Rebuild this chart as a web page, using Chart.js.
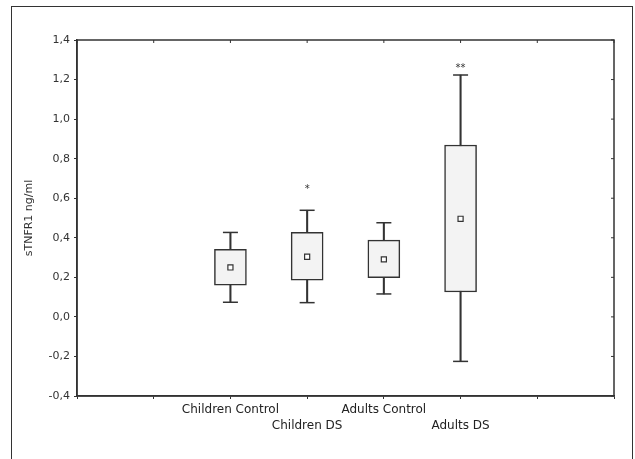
<!DOCTYPE html>
<html>
<head>
<meta charset="utf-8">
<script src="https://cdn.jsdelivr.net/npm/chart.js@4.4.1/dist/chart.umd.min.js"></script>
<style>
  html, body { margin: 0; padding: 0; background: #fff; overflow: hidden; }
  #wrap { position: relative; width: 635px; height: 459px; }
  #frame { position: absolute; left: 11px; top: 6px; width: 622px; height: 480px; border: 1px solid #333; box-sizing: border-box; }
  #chart { position: absolute; left: 0; top: 0; }
</style>
</head>
<body>
<div id="wrap">
  <div id="frame"></div>
  <canvas id="chart" width="635" height="459"></canvas>
</div>
<script>
// группы и значения
const groups = ['Children Control', 'Children DS', 'Adults Control', 'Adults DS'];
const q1 = [0.160, 0.186, 0.198, 0.126];
const q3 = [0.341, 0.428, 0.388, 0.869];
const whiskerMin = [0.074, 0.072, 0.116, -0.225];
const whiskerMax = [0.427, 0.539, 0.476, 1.223];
const means = [0.250, 0.304, 0.291, 0.496];
const sigText = ['', '*', '', '**'];
const sigY = [null, 0.664, null, 1.274];
const yTicks = [-0.4, 1.4, 0.2]; // min, max, шаг

// по оси X 8 позиций, группы стоят на 2..5
const labels = ['', '', ...groups, '', ''];
const pad = arr => [null, null, ...arr, null, null];
const boxData = pad(groups.map((g, i) => [q1[i], q3[i]]));
const stemData = pad(groups.map((g, i) => [whiskerMin[i], whiskerMax[i]]));

const INK = '#333';
const FONT = 'DejaVu Sans';

// рамка области графика, внутренние засечки и звёздочки
const framePlugin = {
    id: 'frame',
    afterDatasetsDraw(chart) {
        const { ctx, chartArea: a, scales } = chart;
        ctx.save();
        ctx.strokeStyle = INK;
        ctx.lineWidth = 1.5;
        ctx.strokeRect(a.left, a.top, a.right - a.left, a.bottom - a.top);
        ctx.lineWidth = 1;
        scales.y.ticks.forEach((t, i) => {
            const y = scales.y.getPixelForTick(i);
            ctx.beginPath();
            ctx.moveTo(a.right - 3, y);
            ctx.lineTo(a.right, y);
            ctx.stroke();
        });
        scales.x.ticks.forEach((t, i) => {
            const x = scales.x.getPixelForTick(i);
            ctx.beginPath();
            ctx.moveTo(x, a.top);
            ctx.lineTo(x, a.top + 3);
            ctx.stroke();
        });
        ctx.fillStyle = INK;
        ctx.font = '10px ' + FONT;
        ctx.textAlign = 'center';
        ctx.textBaseline = 'alphabetic';
        groups.forEach((g, i) => {
            if (!sigText[i]) return;
            const x = scales.x.getPixelForValue(i + 2);
            const y = scales.y.getPixelForValue(sigY[i]);
            ctx.fillText(sigText[i], x, y + 6);
        });
        ctx.restore();
    }
};

const ctx = document.getElementById('chart').getContext('2d');
new Chart(ctx, {
    type: 'bar',
    data: {
        labels: labels,
        datasets: [
            {
                label: 'box',
                data: boxData,
                backgroundColor: '#f3f3f3',
                borderColor: INK,
                borderWidth: 1.5,
                borderSkipped: false,
                barThickness: 32,
                grouped: false,
                order: 1
            },
            {
                label: 'whisker',
                data: stemData,
                backgroundColor: INK,
                borderWidth: 0,
                barThickness: 1.4,
                grouped: false,
                order: 3
            },
            {
                type: 'line',
                label: 'min',
                data: pad(whiskerMin),
                showLine: false,
                pointStyle: 'line',
                pointRadius: 7.5,
                pointBorderWidth: 1.5,
                pointBorderColor: INK,
                order: 2
            },
            {
                type: 'line',
                label: 'max',
                data: pad(whiskerMax),
                showLine: false,
                pointStyle: 'line',
                pointRadius: 7.5,
                pointBorderWidth: 1.5,
                pointBorderColor: INK,
                order: 2
            },
            {
                type: 'line',
                label: 'mean',
                data: pad(means),
                showLine: false,
                pointStyle: 'rect',
                pointRadius: 3.6,
                pointBackgroundColor: '#fff',
                pointBorderColor: INK,
                pointBorderWidth: 1.2,
                order: 0
            }
        ]
    },
    options: {
        responsive: false,
        animation: false,
        devicePixelRatio: 1,
        layout: { padding: { top: 40, right: 21, left: 0, bottom: 0 } },
        plugins: {
            legend: { display: false },
            tooltip: { enabled: false }
        },
        scales: {
            x: {
                offset: false,
                grid: { offset: false, drawOnChartArea: false, tickLength: 3, color: INK },
                border: { color: INK, width: 1.5 },
                ticks: {
                    autoSkip: false,
                    maxRotation: 0,
                    padding: 3,
                    color: '#222',
                    font: { family: FONT, size: 12, lineHeight: '16px' },
                    callback: (v, i) => {
                        const name = labels[i];
                        const gi = groups.indexOf(name);
                        return gi % 2 === 1 ? ['', name] : name;
                    }
                },
                afterFit: s => { s.height = 63; }
            },
            y: {
                min: yTicks[0],
                max: yTicks[1],
                grid: { drawOnChartArea: false, tickLength: 3, color: INK },
                border: { color: INK, width: 1.5 },
                ticks: {
                    stepSize: yTicks[2],
                    padding: 4,
                    color: '#333',
                    font: { family: FONT, size: 11 },
                    callback: v => {
                        const r = Math.round(v * 10) / 10;
                        return (r === 0 ? 0 : r).toFixed(1).replace('.', ',');
                    }
                },
                title: {
                    display: true,
                    text: 'sTNFR1 ng/ml',
                    color: '#333',
                    font: { family: FONT, size: 11, lineHeight: '13px' },
                    padding: { top: 23, bottom: 0 }
                },
                afterFit: s => { s.width = 77; }
            }
        }
    },
    plugins: [framePlugin]
});
</script>
</body>
</html>
